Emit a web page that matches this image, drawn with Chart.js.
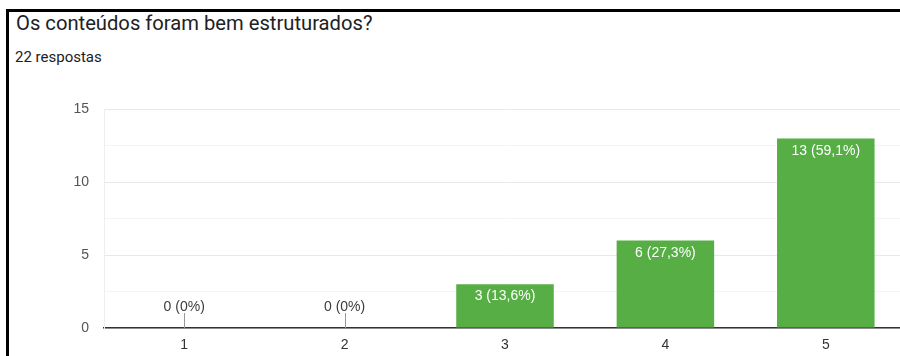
<!DOCTYPE html>
<html>
<head>
<meta charset="utf-8">
<script src="https://cdn.jsdelivr.net/npm/chart.js@4/dist/chart.umd.min.js"></script>
<style>
  html, body { margin: 0; padding: 0; background: #fff; overflow: hidden; }
  body { width: 900px; height: 356px; position: relative; font-family: Roboto, Arial, sans-serif; }
  .frame { position: absolute; left: 6px; top: 9px; width: 900px; height: 360px;
           border-left: 3px solid #000; border-top: 3px solid #000; }
  .title { position: absolute; left: 16px; top: 11px; font-size: 20.2px; color: #202124; }
  .sub { position: absolute; left: 15px; top: 48px; font-size: 15px; color: #202124; }
  .wrap { position: absolute; left: 9px; top: 86px; width: 910px; height: 270px; }
</style>
</head>
<body>
<div class="frame"></div>
<div class="title">Os conteúdos foram bem estruturados?</div>
<div class="sub">22 respostas</div>
<div class="wrap"><canvas id="chart"></canvas></div>
<script>
const categories = ['1', '2', '3', '4', '5'];
const counts = [0, 0, 3, 6, 13];
const percents = ['0%', '0%', '13,6%', '27,3%', '59,1%'];
const yTicks = [0, 5, 10, 15];

const FONT = '"Liberation Sans", Arial, sans-serif';

// rótulos dentro das barras (ou acima da linha quando valor é zero)
const barLabels = {
  id: 'barLabels',
  afterDatasetsDraw(chart) {
    const { ctx } = chart;
    const meta = chart.getDatasetMeta(0);
    const zeroY = chart.scales.y.getPixelForValue(0);
    ctx.save();
    ctx.font = '14px ' + FONT;
    ctx.textAlign = 'center';
    ctx.textBaseline = 'alphabetic';
    meta.data.forEach((bar, i) => {
      const txt = counts[i] + ' (' + percents[i] + ')';
      if (counts[i] === 0) {
        ctx.strokeStyle = '#999';
        ctx.lineWidth = 1;
        ctx.beginPath();
        ctx.moveTo(Math.round(bar.x) + 0.5, zeroY);
        ctx.lineTo(Math.round(bar.x) + 0.5, zeroY - 15);
        ctx.stroke();
        ctx.fillStyle = '#3c3c3c';
        ctx.fillText(txt, bar.x, zeroY - 17);
      } else {
        ctx.fillStyle = '#fff';
        ctx.fillText(txt, bar.x, bar.y + 16);
      }
    });
    ctx.restore();
  }
};

new Chart(document.getElementById('chart'), {
  type: 'bar',
  data: {
    labels: categories,
    datasets: [{
      data: counts,
      backgroundColor: '#57ae44',
      borderWidth: 0,
      barPercentage: 0.76,
      categoryPercentage: 0.8
    }]
  },
  options: {
    responsive: true,
    maintainAspectRatio: false,
    animation: false,
    layout: { padding: { top: 0, right: 13, left: 0, bottom: 0 } },
    plugins: { legend: { display: false }, tooltip: { enabled: false } },
    scales: {
      x: {
        grid: { display: false, drawTicks: false },
        border: { color: '#333', width: 1.5 },
        ticks: { color: '#333', font: { size: 14, family: FONT }, padding: 9 },
        afterFit(scale) { scale.height = 28; }
      },
      y: {
        min: 0,
        max: 15,
        ticks: {
          stepSize: 2.5,
          color: '#555',
          padding: 15,
          font: { size: 14, family: FONT },
          callback: v => yTicks.includes(v) ? v : ''
        },
        grid: {
          drawTicks: false,
          color: c => yTicks.includes(c.tick.value) ? '#e8e8e8' : '#f4f4f4'
        },
        border: { display: true, color: '#eeeeee' },
        afterFit(scale) { scale.width = 95; }
      }
    }
  },
  plugins: [barLabels]
});
</script>
</body>
</html>
